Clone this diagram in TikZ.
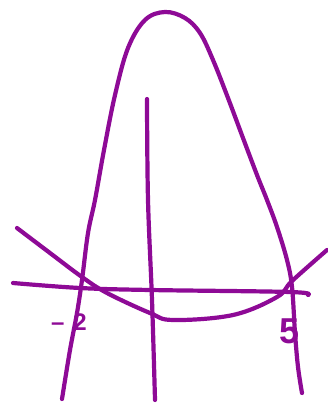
\documentclass[tikz,border=0pt]{standalone}
\usepackage{fontspec}
\setmainfont{Liberation Sans}
\usetikzlibrary{positioning}
\definecolor{inkPurple}{HTML}{8E0A96}

\begin{document}
\begin{tikzpicture}[
    x=1pt, y=-1pt,
    sketch/.style={draw=inkPurple, line width=4.2pt, line cap=round, line join=round},
    tick/.style={text=inkPurple, inner sep=0pt, font=\bfseries},
  ]
    \useasboundingbox (0,0) rectangle (328,403);

    % downward parabola
    \draw[sketch] plot[smooth, tension=0.6] coordinates {
      (62,399) (70,350) (77,313) (82,280) (88,233) (95,200) (104,150)
      (115,95) (128,48) (145,20) (165,12) (185,18) (200,33) (213,60)
      (228,98) (243,138) (257,175) (267,200) (277,227) (287,260)
      (292,287) (295,333) (298,367) (302,393)};

    % y axis
    \draw[sketch] plot[smooth, tension=0.6] coordinates {
      (147,99) (148,200) (152,300) (155,400)};

    % x axis
    \draw[sketch] plot[smooth, tension=0.6] coordinates {
      (13,283) (80,288) (150,290) (290,292) (308,295)};

    % upward parabola
    \draw[sketch] plot[smooth, tension=0.6] coordinates {
      (17,228) (50,253) (82,277) (107,293) (150,313) (173,320)
      (233,315) (277,297) (292,281) (327,250)};

    % roots
    \node[tick, font=\fontsize{24}{24}\selectfont\bfseries] (mtwo) at (69,322) {–\hspace{9pt}2};
    \node[tick, font=\fontsize{36}{36}\selectfont\bfseries] (five) at (290,331) {5};
\end{tikzpicture}
\end{document}
